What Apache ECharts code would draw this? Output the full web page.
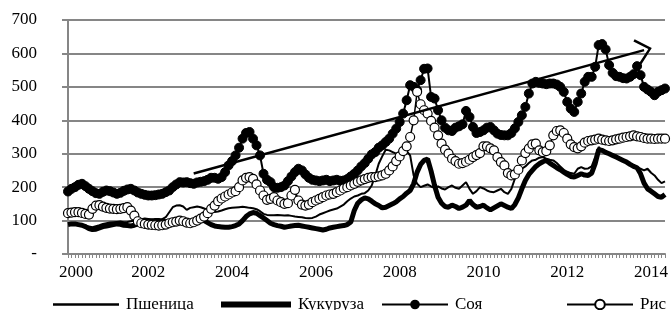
<!DOCTYPE html>
<html>
<head>
    <meta charset="utf-8"/>
    <script src="https://cdn.jsdelivr.net/npm/echarts@6/dist/echarts.min.js"></script>
    <style>
        html, body { margin: 0; padding: 0; background: #fff; }
        #container { width: 672px; height: 310px; }
    </style>
</head>
<body>
<div id="container"></div>
<script type="text/javascript">
    // monthly prices, Feb 2000 .. May 2014
    var wheat = [
        92, 93, 92, 90, 88, 85, 82, 80, 83, 86, 90, 92,
        94, 95, 96, 97, 95, 96, 98, 100, 102, 104, 106, 105,
        104, 102, 100, 104, 110, 125, 140, 145, 146, 142, 132, 138,
        140, 142, 140, 136, 132, 128, 126, 127, 130, 134, 137, 138,
        139, 140, 141, 140, 138, 137, 134, 128, 120, 117, 116, 116,
        117, 116, 115, 116, 114, 112, 111, 110, 108, 107, 108, 112,
        118, 122, 126, 130, 133, 136, 142, 148, 158, 166, 172, 175,
        180, 182, 190, 205, 235, 270, 292, 312, 310, 305, 300, 305,
        310, 308, 295, 235, 210, 200, 204, 208, 202, 198, 202, 196,
        193, 200, 205, 198, 195, 205, 215, 195, 180, 188, 200, 196,
        190, 186, 185, 190, 195, 185, 180, 195, 225, 245, 255, 262,
        272, 280, 282, 288, 290, 285, 282, 280, 272, 262, 252, 246,
        242, 240, 255, 260, 255, 256, 262, 290, 320, 308, 302, 300,
        298, 295, 285, 280, 275, 268, 262, 260, 255, 250, 255, 243,
        235, 222, 212, 217
    ];
    var corn = [
        88, 90, 90, 88, 86, 82, 76, 73, 74, 78, 82, 84,
        86, 88, 90, 89, 86, 85, 84, 86, 90, 94, 96, 97,
        98, 100, 100, 99, 96, 97, 100, 102, 100, 96, 94, 96,
        98, 102, 104, 100, 94, 88, 84, 82, 81, 80, 80, 82,
        85, 90, 100, 112, 120, 124, 122, 115, 108, 100, 92, 88,
        85, 83, 80, 82, 84, 85, 86, 84, 82, 80, 78, 76,
        74, 72, 74, 78, 80, 82, 84, 85, 88, 96, 130, 152,
        162, 168, 165, 158, 150, 145, 138, 140, 145, 150, 156, 165,
        172, 182, 190, 210, 245, 268, 280, 284, 248, 205, 170, 152,
        142, 140, 146, 142, 136, 140, 146, 160, 148, 140, 142, 146,
        138, 132, 138, 144, 150, 145, 140, 136, 148, 168, 195, 220,
        238, 250, 262, 270, 276, 280, 272, 265, 258, 252, 245, 238,
        232, 230, 235, 240, 236, 235, 242, 270, 312, 310, 304, 300,
        295, 290, 285, 280, 275, 268, 262, 258, 240, 212, 195, 188,
        180, 172, 170, 178
    ];
    var soy = [
        187, 195, 200, 207, 210, 203, 195, 188, 182, 180, 186, 190,
        188, 184, 180, 183, 189, 193, 195, 190, 184, 180, 177, 175,
        175, 176, 178, 180, 185, 190, 200, 208, 215, 214, 215, 212,
        210, 214, 216, 218, 222, 228, 228, 225, 230, 245, 265, 278,
        295, 318, 345, 362, 365, 345, 325, 295, 240, 222, 215, 200,
        198, 200, 205, 218, 232, 245, 255, 250, 238, 228, 222, 220,
        218, 220, 222, 218, 220, 222, 219, 220, 224, 232, 240, 250,
        262, 272, 285, 298, 305, 318, 325, 335, 345, 360, 375, 395,
        420, 460, 505, 500, 490, 520, 554, 555, 470, 465, 430, 400,
        378, 370, 368, 378, 382, 388, 428, 410, 380, 362, 365, 370,
        378, 380, 370, 360, 356, 355, 355, 362, 376, 395, 415, 440,
        480, 510, 515, 512, 510, 508, 510, 510, 507, 500, 485, 455,
        435, 425, 455, 480, 515, 530, 530, 560, 625, 628, 612, 565,
        542, 532, 530, 526, 525, 530, 538, 562, 535, 500, 492, 485,
        475, 485, 490, 495
    ];
    var rice = [
        122, 124, 125, 125, 123, 120, 118, 135, 145, 146, 142, 138,
        136, 135, 134, 135, 137, 140, 130, 115, 98, 92, 90, 88,
        87, 86, 85, 86, 88, 92, 95, 97, 100, 98, 94, 92,
        95, 100, 106, 112, 122, 135, 145, 158, 166, 172, 178, 184,
        188, 200, 220, 228, 230, 225, 208, 190, 175, 162, 165, 170,
        160, 155, 150, 152, 175, 192, 160, 148, 145, 148, 155, 160,
        165, 170, 175, 178, 180, 185, 190, 196, 200, 205, 210, 216,
        220, 224, 228, 230, 230, 232, 235, 240, 250, 262, 278, 292,
        308, 322, 350, 400, 485, 448, 430, 420, 398, 378, 355, 330,
        312, 300, 285, 278, 270, 272, 276, 282, 290, 296, 302, 322,
        322, 316, 310, 290, 275, 265, 242, 235, 238, 252, 280, 302,
        315, 328, 330, 310, 305, 308, 325, 355, 368, 370, 362, 345,
        328, 320, 316, 322, 333, 338, 340, 342, 345, 342, 340, 338,
        340, 343, 345, 348, 350, 352, 355, 352, 350, 347, 345, 345,
        344, 345, 345, 345
    ];
    var seriesNames = ['Пшеница', 'Кукуруза', 'Соя', 'Рис'];
    var tickIndex = [0, 23, 47, 71, 95, 119, 143, 167];
    var tickText = ['2000', '2002', '2004', '2006', '2008', '2010', '2012', '2014'];
    // trend arrow: [month index, value]
    var trendStart = [36, 241];
    var trendEnd = [165, 610];

    var months = [];
    for (var i = 0; i < soy.length; i++) {
        var y = 2000 + Math.floor((i + 1) / 12);
        var m = (i + 1) % 12 + 1;
        months.push(y + '-' + (m < 10 ? '0' + m : m));
    }

    var font = 'Liberation Serif';
    var gray = '#868686';

    var dom = document.getElementById('container');
    var myChart = echarts.init(dom);

    // plain line icons keep a 12px tall box so the text lines up with the others
    var thinIcon = 'path://M0,0 L0,0 Z M0,4.8 L66,4.8 L66,7.2 L0,7.2 Z M0,12 L0,12 Z';
    var thickIcon = 'path://M0,0 L0,0 Z M0,3 L70,3 L70,9 L0,9 Z M0,12 L0,12 Z';

    function legendFor(name, left, w, icon) {
        var l = {
            data: [name],
            left: left,
            top: 291,
            itemWidth: w,
            itemHeight: 12,
            textStyle: {fontFamily: font, fontSize: 17, color: '#000', padding: [0, 0, 0, 2]}
        };
        if (icon) l.icon = icon;
        return l;
    }

    var option = {
        animation: false,
        backgroundColor: '#fff',
        grid: {left: 68, right: 7, top: 20, bottom: 56},
        legend: [
            legendFor('Пшеница', 48, 66, thinIcon),
            legendFor('Кукуруза', 216, 70, thickIcon),
            legendFor('Соя', 376, 66),
            legendFor('Рис', 561, 66)
        ],
        xAxis: {
            type: 'category',
            boundaryGap: false,
            data: months,
            axisLine: {lineStyle: {color: gray, width: 2}},
            axisTick: {interval: 0, length: 4, lineStyle: {color: gray}},
            axisLabel: {
                interval: function (idx) { return tickIndex.indexOf(idx) >= 0; },
                formatter: function (v, idx) {
                    var k = tickIndex.indexOf(idx);
                    if (k === 0) return '{first|' + tickText[k] + '}';
                    return k >= 0 ? tickText[k] : '';
                },
                rich: {first: {fontFamily: font, fontSize: 17, color: '#000', padding: [0, 0, 0, 16]}},
                fontFamily: font,
                fontSize: 17,
                color: '#000',
                margin: 10
            },
            splitLine: {show: false}
        },
        yAxis: {
            type: 'value',
            min: 0,
            max: 700,
            interval: 100,
            axisLine: {show: true, lineStyle: {color: gray, width: 2}},
            axisTick: {show: true, length: 6, lineStyle: {color: gray, width: 2}},
            axisLabel: {
                fontFamily: font,
                fontSize: 17,
                color: '#000',
                margin: 31,
                formatter: function (v) { return v === 0 ? '-' : v; }
            },
            splitLine: {lineStyle: {color: gray, width: 2}}
        },
        series: [
            {
                name: seriesNames[0],
                type: 'line',
                data: wheat,
                symbol: 'none',
                lineStyle: {color: '#000', width: 2},
                itemStyle: {color: '#000'}
            },
            {
                name: seriesNames[1],
                type: 'line',
                data: corn,
                symbol: 'none',
                lineStyle: {color: '#000', width: 5},
                itemStyle: {color: '#000'}
            },
            {
                name: seriesNames[2],
                type: 'line',
                data: soy,
                symbol: 'circle',
                symbolSize: 9,
                showAllSymbol: true,
                lineStyle: {color: '#000', width: 2},
                itemStyle: {color: '#000', borderColor: '#000'}
            },
            {
                name: seriesNames[3],
                type: 'line',
                data: rice,
                symbol: 'circle',
                symbolSize: 9,
                showAllSymbol: true,
                lineStyle: {color: '#000', width: 1.5},
                itemStyle: {color: '#fff', borderColor: '#000', borderWidth: 1.2}
            },
            {
                name: 'trend',
                type: 'line',
                data: [],
                markLine: {
                    silent: true,
                    symbol: ['none', 'path://M14,0 L28,16 L26,18 L14,4 L2,18 L0,16 Z'],
                    symbolSize: [26, 16],
                    label: {show: false},
                    lineStyle: {color: '#000', width: 2.5, type: 'solid'},
                    itemStyle: {color: '#000'},
                    data: [[{coord: trendStart}, {coord: trendEnd}]]
                }
            }
        ]
    };

    if (option && typeof option === "object") {
        myChart.setOption(option, true);
    }
</script>
</body>
</html>
